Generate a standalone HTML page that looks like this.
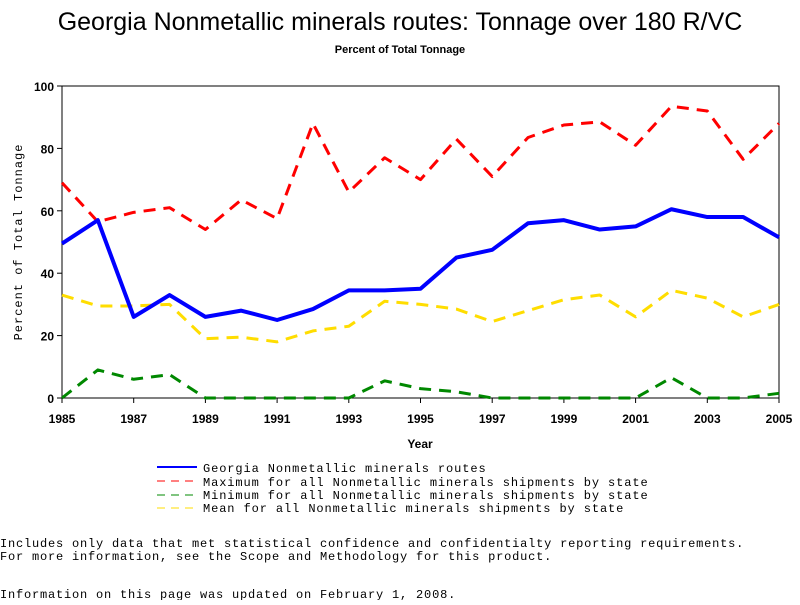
<!DOCTYPE html>
<html><head><meta charset="utf-8"><style>
body{margin:0;background:#fff;width:800px;height:600px;overflow:hidden;font-family:"Liberation Mono",monospace}
svg text{font-family:"Liberation Sans",sans-serif}
</style></head><body>
<svg id="c" width="800" height="600">
<text x="400" y="30" font-size="25" text-anchor="middle">Georgia Nonmetallic minerals routes: Tonnage over 180 R/VC</text>
<text x="400" y="53" font-size="11" font-weight="bold" text-anchor="middle">Percent of Total Tonnage</text>
<text x="420" y="448" font-size="12" font-weight="bold" text-anchor="middle">Year</text>
<text transform="translate(22,242) rotate(-90)" font-size="12" text-anchor="middle" style="font-family:'Liberation Mono',monospace;letter-spacing:1px">Percent of Total Tonnage</text>
<g id="plot"></g>
<g font-size="12" style="font-family:'Liberation Mono',monospace;letter-spacing:0.9px">
<line x1="157" y1="467" x2="197" y2="467" stroke="#00f" stroke-width="2"/>
<text x="203" y="472" style="font-family:'Liberation Mono',monospace">Georgia Nonmetallic minerals routes</text>
<line x1="157" y1="481" x2="197" y2="481" stroke="#f00" stroke-dasharray="8,6"/>
<text x="203" y="486" style="font-family:'Liberation Mono',monospace">Maximum for all Nonmetallic minerals shipments by state</text>
<line x1="157" y1="495" x2="197" y2="495" stroke="#080" stroke-dasharray="8,6"/>
<text x="203" y="499" style="font-family:'Liberation Mono',monospace">Minimum for all Nonmetallic minerals shipments by state</text>
<line x1="157" y1="508" x2="197" y2="508" stroke="#fd0" stroke-dasharray="8,6"/>
<text x="203" y="512" style="font-family:'Liberation Mono',monospace">Mean for all Nonmetallic minerals shipments by state</text>
<text x="0" y="547" style="font-family:'Liberation Mono',monospace;letter-spacing:0.8px">Includes only data that met statistical confidence and confidentialty reporting requirements.</text>
<text x="0" y="560" style="font-family:'Liberation Mono',monospace;letter-spacing:0.8px">For more information, see the Scope and Methodology for this product.</text>
<text x="0" y="598" style="font-family:'Liberation Mono',monospace;letter-spacing:0.8px">Information on this page was updated on February 1, 2008.</text>
</g>
</svg>
<script>
const years=[1985,1986,1987,1988,1989,1990,1991,1992,1993,1994,1995,1996,1997,1998,1999,2000,2001,2002,2003,2004,2005];
const georgia=[49.5,57,26,33,26,28,25,28.5,34.5,34.5,35,45,47.5,56,57,54,55,60.5,58,58,51.5];
const maxVals=[69,56.5,59.5,61,54,63.5,57.5,88,66,77,70,83,71,83.5,87.5,88.5,81,93.5,92,76.5,88];
const meanVals=[33,29.5,29.5,30,19,19.5,18,21.5,23,31,30,28.5,24.5,28,31.5,33,26,34.5,32,26,30];
const minVals=[0,9,6,7.5,0,0,0,0,0,5.5,3,2,0,0,0,0,0,6.5,0,0,1.5];
const yTicks=[0,20,40,60,80,100];
const xTicks=[1985,1987,1989,1991,1993,1995,1997,1999,2001,2003,2005];
const L=62,R=779,T=86,B=398,NS='http://www.w3.org/2000/svg';
const xs=y=>L+(y-1985)/20*(R-L), ys=v=>B-v/100*(B-T);
const g=document.getElementById('plot');
function mk(t,a){const e=document.createElementNS(NS,t);for(const k in a)e.setAttribute(k,a[k]);g.appendChild(e);return e;}
const fr=mk('rect',{x:L,y:T,width:R-L,height:B-T,fill:'none',stroke:'#000'});


yTicks.forEach(v=>{mk('line',{x1:L-5,x2:L,y1:ys(v),y2:ys(v),stroke:'#000'});
const t=mk('text',{x:L-8,y:ys(v)+5,'text-anchor':'end','font-size':12,'font-weight':'bold'});t.textContent=v;

});
xTicks.forEach(v=>{mk('line',{x1:xs(v),x2:xs(v),y1:B,y2:B+5,stroke:'#000'});
const t=mk('text',{x:xs(v),y:B+25,'text-anchor':'middle','font-size':12,'font-weight':'bold'});t.textContent=v;

});
function line(d,c,w,dash,name){const p=mk('polyline',{points:d.map((v,i)=>xs(years[i])+','+ys(v)).join(' '),fill:'none',stroke:c,'stroke-width':w,'stroke-dasharray':dash||'none','stroke-linejoin':'round'});

}
line(maxVals,'#f00',3,'12,8','max-line');
line(meanVals,'#fd0',3,'12,8','mean-line');
line(minVals,'#080',3,'12,8','min-line');
line(georgia,'#00f',4,null,'georgia-line');
</script>
</body></html>
